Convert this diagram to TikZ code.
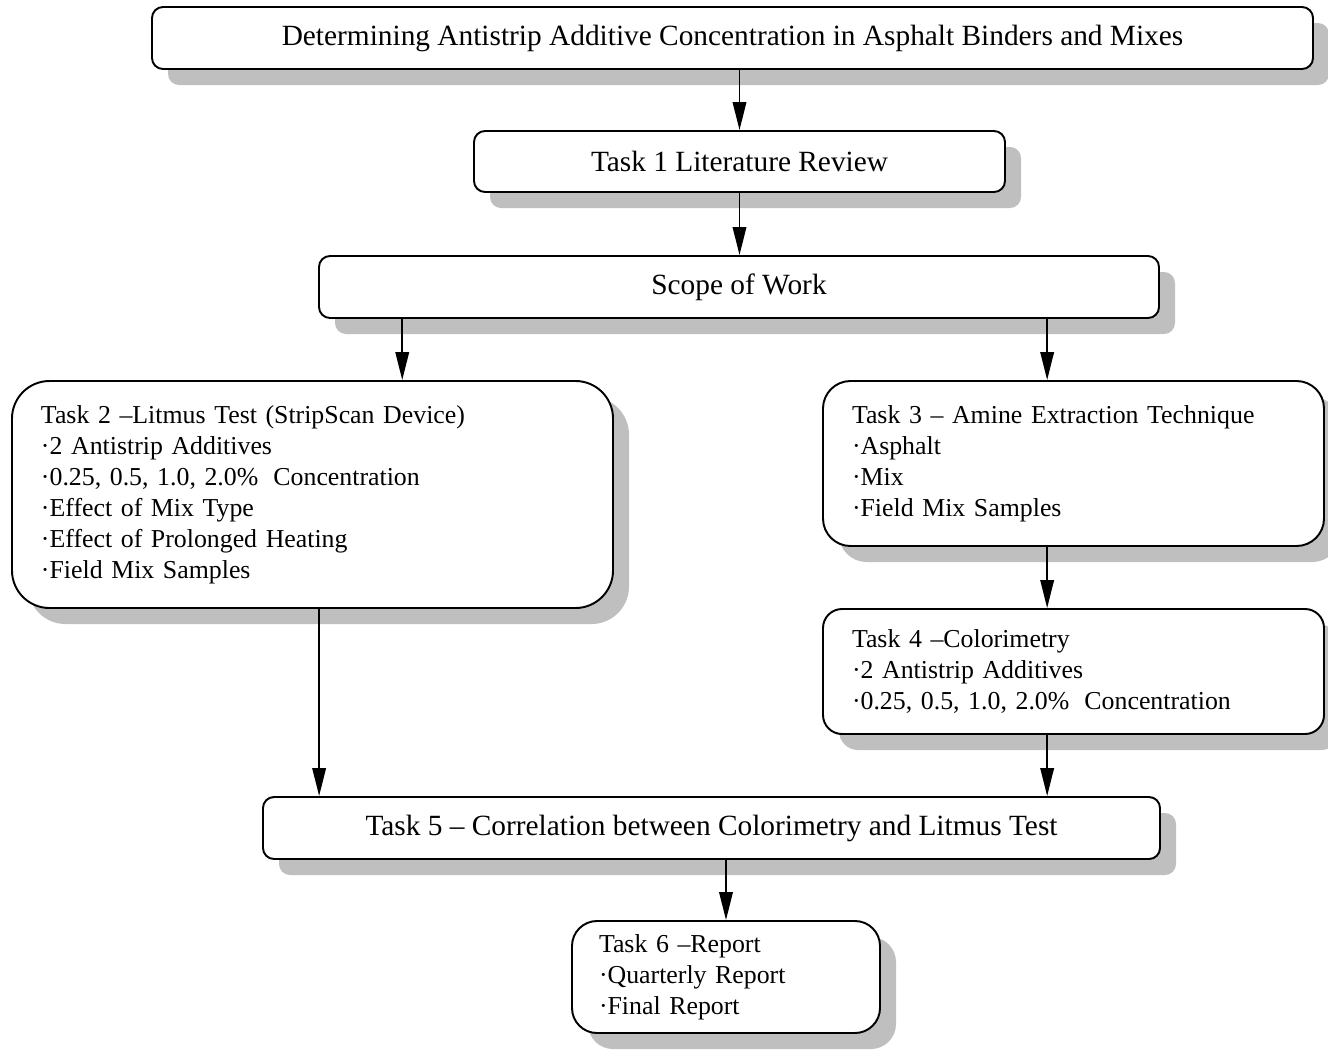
\documentclass[tikz,border=0pt]{standalone}
\usepackage{fontspec}
\setmainfont{Liberation Serif}
\usepackage{tikz}
\usetikzlibrary{shapes}
\usetikzlibrary{shadows}
\usetikzlibrary{calc}
\usetikzlibrary{arrows.meta}
\tikzset{
    boxbase/.style = {rectangle, draw=black, line width=1.1pt, fill=white,
        drop shadow={shadow xshift=0.32cm, shadow yshift=-0.32cm, fill=black!25, opacity=1}},
    linebox/.style = {boxbase, rounded corners=0.22cm, inner sep=0pt, align=center,
        minimum height=1.24cm, font=\fontsize{16.7}{20}\selectfont},
    listbox/.style = {boxbase, inner xsep=0.58cm, inner ysep=0pt, align=left,
        font=\fontsize{14.7}{17.6}\selectfont},
    arr/.style = {-{Triangle[length=0.56cm,width=0.27cm]}, line width=1.1pt, black}
}

\begin{document}
\begin{tikzpicture}
\useasboundingbox (0,0) rectangle (26.56,-20.98);
\node[linebox, minimum width=23.22cm] at (14.65, -0.76) (title) {Determining Antistrip Additive Concentration in Asphalt Binders and Mixes};
\node[linebox, minimum width=10.62cm, minimum height=1.22cm] at (14.79, -3.23) (task1) {Task 1 Literature Review};
\node[linebox, minimum width=16.80cm] at (14.78, -5.74) (scope) {Scope of Work};
\node[listbox, rounded corners=0.75cm, text width=10.86cm, minimum height=4.54cm] at ( 6.25, -9.89) (task2)
    {Task 2 --Litmus Test (StripScan Device)\\ ·2 Antistrip Additives\\ ·0.25, 0.5, 1.0, 2.0\%\hspace{0.25em} Concentration\\ ·Effect of Mix Type\\ ·Effect of Prolonged Heating\\ ·Field Mix Samples};
\node[listbox, rounded corners=0.55cm, text width=8.86cm, minimum height=3.30cm] at (21.47, -9.27) (task3)
    {Task 3 -- Amine Extraction Technique\\ ·Asphalt\\ ·Mix\\ ·Field Mix Samples};
\node[listbox, rounded corners=0.38cm, text width=8.86cm, minimum height=2.50cm] at (21.47, -13.43) (task4)
    {Task 4 --Colorimetry\\ ·2 Antistrip Additives\\ ·0.25, 0.5, 1.0, 2.0\%\hspace{0.25em} Concentration};
\node[linebox, minimum width=17.94cm] at (14.23, -16.56) (task5) {Task 5 -- Correlation between Colorimetry and Litmus Test};
\node[listbox, rounded corners=0.5cm, text width=5.08cm, minimum height=2.24cm, inner xsep=0.54cm] at (14.52, -19.54) (task6)
    {Task 6 --Report\\ ·Quarterly Report\\ ·Final Report};

\coordinate (s2) at ($(scope.south west)!0.1!(scope.south east)$);
\coordinate (s3) at ($(scope.south west)!0.866!(scope.south east)$);
\coordinate (t2) at ($(task2.south west)!0.511!(task2.south east)$);

\draw[arr] (title.south -| task1.north) -- (task1.north);
\draw[arr] (task1.south) -- (task1.south |- scope.north);
\draw[arr] (s2) -- (s2 |- task2.north);
\draw[arr] (s3) -- (s3 |- task3.north);
\draw[arr] (s3 |- task3.south) -- (s3 |- task4.north);
\draw[arr] (t2) -- (t2 |- task5.north);
\draw[arr] (s3 |- task4.south) -- (s3 |- task5.north);
\draw[arr] (task5.south -| task6.north) -- (task6.north);

\end{tikzpicture}
\end{document}
